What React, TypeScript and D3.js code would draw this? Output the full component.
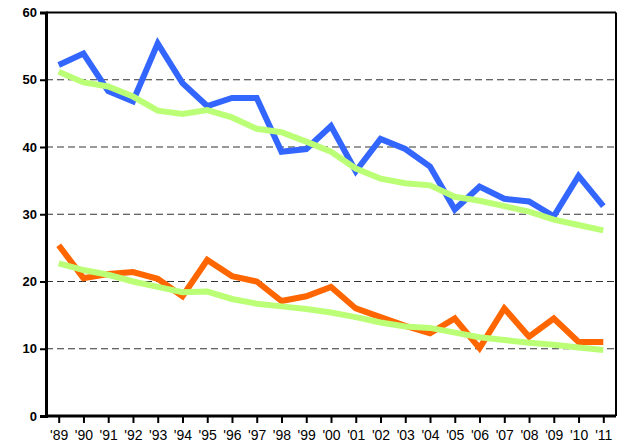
import { useEffect, useRef } from 'react';
import * as d3 from 'd3';

const years = ['89', '90', '91', '92', '93', '94', '95', '96', '97', '98', '99', '00', '01', '02', '03', '04', '05', '06', '07', '08', '09', '10', '11'];
const blueSeries = [52.2, 53.9, 48.3, 46.8, 55.4, 49.5, 46.1, 47.3, 47.3, 39.3, 39.7, 43.1, 36.4, 41.2, 39.7, 37.1, 30.7, 34.1, 32.3, 31.9, 29.7, 35.7, 31.2];
const blueTrend = [51.2, 49.6, 49.0, 47.5, 45.4, 44.9, 45.5, 44.4, 42.7, 42.2, 40.8, 39.3, 36.8, 35.3, 34.6, 34.3, 32.6, 32.0, 31.2, 30.4, 29.2, 28.4, 27.6];
const orangeSeries = [25.4, 20.5, 21.1, 21.4, 20.4, 17.8, 23.2, 20.8, 20.0, 17.1, 17.8, 19.2, 16.0, 14.7, 13.4, 12.3, 14.5, 10.1, 16.0, 11.8, 14.5, 11.0, 11.0];
const orangeTrend = [22.7, 21.7, 21.0, 20.0, 19.2, 18.4, 18.5, 17.4, 16.7, 16.3, 15.9, 15.4, 14.7, 13.9, 13.3, 13.1, 12.4, 11.7, 11.3, 10.9, 10.6, 10.2, 9.8];
const yTicks = [0, 10, 20, 30, 40, 50, 60];
const gridTicks = [10, 20, 30, 40, 50];

export default function App() {
  const svgRef = useRef<SVGSVGElement>(null);

  useEffect(() => {
    if (!svgRef.current) return;
    const W = 628;
    const H = 448;
    const M = { top: 12.5, right: 12, bottom: 32, left: 46 };

    const svg = d3.select(svgRef.current).attr('width', W).attr('height', H);
    svg.selectAll('*').remove();

    const x = d3.scalePoint<string>().domain(years).range([58.7, 603.3]);
    const y = d3.scaleLinear().domain([0, 60]).range([H - M.bottom, M.top]);

    // dashed grid
    svg.append('g').selectAll('line').data(gridTicks).join('line')
      .attr('x1', M.left).attr('x2', W - M.right)
      .attr('y1', d => y(d)).attr('y2', d => y(d))
      .style('stroke', '#333').style('stroke-width', 1)
      .style('stroke-dasharray', '7,4');

    // series
    const line = d3.line<number>()
      .x((_, i) => x(years[i])!)
      .y(d => y(d));

    const series = [
      { data: blueSeries, color: '#3366ff' },
      { data: orangeSeries, color: '#ff6600' },
      { data: blueTrend, color: '#bbff77' },
      { data: orangeTrend, color: '#bbff77' },
    ];
    for (const s of series) {
      svg.append('path').datum(s.data).attr('d', line)
        .style('fill', 'none').style('stroke', s.color)
        .style('stroke-width', 6).style('stroke-linejoin', 'miter');
    }

    // frame
    svg.append('line').attr('x1', M.left).attr('x2', W - M.right)
      .attr('y1', M.top).attr('y2', M.top).style('stroke', '#000').style('stroke-width', 2);
    svg.append('line').attr('x1', W - M.right).attr('x2', W - M.right)
      .attr('y1', M.top).attr('y2', H - M.bottom).style('stroke', '#000').style('stroke-width', 2);

    // left axis
    const yAxis = svg.append('g').attr('transform', `translate(${M.left},0)`)
      .call(d3.axisLeft(y).tickValues(yTicks).tickSize(6).tickPadding(3).tickFormat(d3.format('d')));
    yAxis.select('.domain').style('stroke', '#000').style('stroke-width', 3);
    yAxis.selectAll('.tick line').style('stroke', '#000').style('stroke-width', 2);
    yAxis.selectAll('text').style('font-family', '"Liberation Sans", Arial, sans-serif')
      .style('font-size', '13px').style('font-weight', 'bold').style('fill', '#000');

    // bottom axis
    const xAxis = svg.append('g').attr('transform', `translate(0,${H - M.bottom})`)
      .call(d3.axisBottom(x).tickSize(7).tickPadding(7).tickFormat(d => `'${d}`));
    xAxis.select('.domain').attr('d', `M${M.left},0H${W - M.right}`)
      .style('stroke', '#000').style('stroke-width', 3);
    xAxis.selectAll('.tick line').style('stroke', '#000').style('stroke-width', 2);
    xAxis.selectAll('text').style('font-family', '"Liberation Sans", Arial, sans-serif')
      .style('font-size', '14px').style('fill', '#000');
  }, []);

  return (
    <div style={{ position: 'absolute', left: 0, top: 0 }}>
      <svg ref={svgRef} style={{ display: 'block', background: '#fff' }} />
    </div>
  );
}
